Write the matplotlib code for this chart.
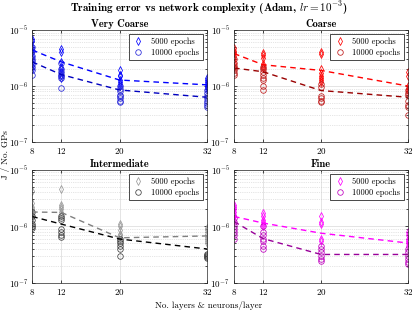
import matplotlib
matplotlib.use("Agg")
from matplotlib import pyplot as plt
from matplotlib.lines import Line2D
import numpy as np

plt.rcParams['font.family'] = ['cmr10', 'DejaVu Serif']
plt.rcParams['mathtext.fontset'] = 'cm'
plt.rcParams['axes.formatter.use_mathtext'] = True

"""Datos leidos de la figura"""
layers = [8, 12, 20, 32]
titles = ["Very Coarse", "Coarse", "Intermediate", "Fine"]

# puntos 5000 epochs (un arreglo por malla, una lista por cada x)
vc_5000 = [[7.0e-6, 6.3e-6, 5.0e-6, 4.6e-6, 4.0e-6, 3.4e-6, 3.0e-6, 2.6e-6, 2.3e-6, 2.0e-6],
           [4.5e-6, 4.0e-6, 2.7e-6, 2.2e-6, 2.0e-6, 1.8e-6, 1.6e-6, 1.4e-6],
           [1.9e-6, 1.6e-6, 1.5e-6, 1.3e-6, 1.2e-6, 1.1e-6, 1.0e-6],
           [1.4e-6, 1.3e-6, 1.2e-6, 1.1e-6, 1.0e-6, 9.5e-7, 9.0e-7]]
vc_10000 = [[5.0e-6, 4.2e-6, 3.5e-6, 3.0e-6, 2.8e-6, 2.5e-6, 2.2e-6, 1.9e-6, 1.6e-6],
            [2.6e-6, 2.0e-6, 1.8e-6, 1.6e-6, 1.5e-6, 1.4e-6, 9.2e-7],
            [1.0e-6, 9.0e-7, 8.0e-7, 7.0e-7, 6.5e-7, 6.0e-7, 5.5e-7, 5.2e-7],
            [8.5e-7, 7.5e-7, 6.5e-7, 6.0e-7, 5.5e-7, 5.0e-7, 4.6e-7, 4.3e-7]]
c_5000 = [[4.8e-6, 4.3e-6, 3.9e-6, 3.5e-6, 3.0e-6, 2.6e-6, 2.2e-6],
          [3.9e-6, 3.6e-6, 3.2e-6, 2.5e-6, 2.3e-6, 2.1e-6],
          [4.0e-6, 3.8e-6, 2.0e-6, 1.7e-6, 1.5e-6, 1.4e-6, 1.3e-6, 1.2e-6],
          [1.8e-6, 1.5e-6, 1.0e-6, 9.0e-7, 8.0e-7]]
c_10000 = [[3.0e-6, 2.6e-6, 2.3e-6, 2.1e-6, 1.9e-6, 1.7e-6, 1.6e-6],
           [2.2e-6, 2.0e-6, 1.8e-6, 1.6e-6, 1.4e-6, 1.3e-6, 1.0e-6, 8.5e-7],
           [1.1e-6, 9.5e-7, 6.5e-7, 6.0e-7, 5.5e-7, 5.2e-7],
           [8.5e-7, 7.5e-7, 7.0e-7, 5.5e-7, 4.5e-7, 4.2e-7, 3.0e-7]]
i_5000 = [[4.3e-6, 2.6e-6, 2.2e-6, 2.0e-6, 1.8e-6, 1.6e-6, 1.4e-6, 1.2e-6],
          [4.6e-6, 2.4e-6, 2.2e-6, 2.0e-6, 1.8e-6, 1.6e-6],
          [1.1e-6, 1.0e-6, 8.5e-7, 7.5e-7, 7.0e-7, 6.5e-7],
          [9.5e-7, 8.5e-7, 7.5e-7, 6.5e-7, 6.0e-7, 5.5e-7, 5.0e-7]]
i_10000 = [[1.8e-6, 1.5e-6, 1.3e-6, 1.1e-6, 1.0e-6, 9.5e-7],
           [1.5e-6, 1.4e-6, 1.3e-6, 9.0e-7, 8.0e-7, 7.0e-7, 6.5e-7],
           [6.0e-7, 5.5e-7, 5.0e-7, 4.5e-7, 4.0e-7, 3.0e-7],
           [3.3e-7, 3.1e-7, 3.0e-7, 2.9e-7, 2.8e-7]]
f_5000 = [[2.4e-6, 2.2e-6, 2.0e-6, 1.8e-6, 1.6e-6, 1.5e-6, 1.3e-6],
          [1.7e-6, 1.5e-6, 1.3e-6, 1.2e-6, 1.1e-6, 1.0e-6],
          [1.5e-6, 1.2e-6, 1.1e-6, 6.0e-7, 5.5e-7],
          [8.0e-7, 7.0e-7, 6.0e-7, 5.5e-7, 5.0e-7, 4.5e-7]]
f_10000 = [[1.4e-6, 1.2e-6, 1.0e-6, 9.0e-7, 8.0e-7, 7.0e-7, 6.0e-7],
           [1.0e-6, 8.0e-7, 7.0e-7, 6.0e-7, 5.5e-7, 4.5e-7, 4.0e-7],
           [4.5e-7, 4.0e-7, 3.5e-7, 3.0e-7, 2.7e-7, 2.5e-7],
           [4.0e-7, 3.5e-7, 3.0e-7, 2.7e-7, 2.4e-7, 2.2e-7]]

# lineas de tendencia (valores leidos)
vc_line_5000 = [4.4e-6, 2.7e-6, 1.28e-6, 1.05e-6]
vc_line_10000 = [2.7e-6, 1.6e-6, 8.5e-7, 6.3e-7]
c_line_5000 = [3.8e-6, 2.4e-6, 1.9e-6, 1.0e-6]
c_line_10000 = [2.1e-6, 1.8e-6, 8.3e-7, 6.3e-7]
i_line_5000 = [1.8e-6, 1.77e-6, 6.3e-7, 6.8e-7]
i_line_10000 = [1.5e-6, 1.1e-6, 6.0e-7, 4.0e-7]
f_line_5000 = [1.5e-6, 1.15e-6, 7.6e-7, 5.1e-7]
f_line_10000 = [1.22e-6, 6.1e-7, 3.2e-7, 3.2e-7]

pts_5000 = [vc_5000, c_5000, i_5000, f_5000]
pts_10000 = [vc_10000, c_10000, i_10000, f_10000]
lines_5000 = [vc_line_5000, c_line_5000, i_line_5000, f_line_5000]
lines_10000 = [vc_line_10000, c_line_10000, i_line_10000, f_line_10000]

# colores: (marcador 5000, linea 5000, marcador 10000, linea 10000)
colores = [((0, 0, 1), (0, 0, 1), (0.15, 0.15, 0.85), (0, 0, 0.75)),
           ((1, 0, 0), (1, 0, 0), (0.75, 0.1, 0.1), (0.6, 0, 0)),
           ((0.6, 0.6, 0.6), (0.5, 0.5, 0.5), (0.25, 0.25, 0.25), (0, 0, 0)),
           ((1, 0, 1), (1, 0, 1), (0.75, 0, 0.75), (0.6, 0, 0.6))]

fig = plt.figure(figsize=(4.18, 3.10), dpi=100)
posiciones = [[0.077, 0.542, 0.418, 0.361],
              [0.560, 0.542, 0.416, 0.361],
              [0.077, 0.087, 0.418, 0.365],
              [0.560, 0.087, 0.416, 0.365]]

for k in range(4):
    ax = fig.add_axes(posiciones[k])
    cm5, cl5, cm10, cl10 = colores[k]
    for j, x in enumerate(layers):
        ax.plot([x]*len(pts_5000[k][j]), pts_5000[k][j], 'd', ms=4,
                mfc='none', mec=cm5, mew=0.55)
        ax.plot([x]*len(pts_10000[k][j]), pts_10000[k][j], 'o', ms=4,
                mfc='none', mec=cm10, mew=0.55)
    ax.plot(layers, lines_5000[k], '--', color=cl5, lw=1.0, dashes=(4, 3))
    ax.plot(layers, lines_10000[k], '--', color=cl10, lw=1.0, dashes=(4, 3))

    ax.set_yscale('log')
    ax.set_ylim(1e-7, 1e-5)
    ax.set_xlim(8, 32)
    ax.set_xticks(layers)
    ax.set_yticks([1e-7, 1e-6, 1e-5])
    ax.tick_params(which='both', direction='in', labelsize=6.5, length=2,
                   width=0.5, top=True, right=True, pad=3)
    ax.tick_params(which='minor', length=1.2)
    ax.grid(True, which='major', color=(0.85, 0.85, 0.85), lw=0.5)
    ax.grid(True, which='minor', axis='y', color=(0.8, 0.8, 0.8), lw=0.5,
            ls=':')
    for s in ax.spines.values():
        s.set_linewidth(0.5)
        s.set_color((0.15, 0.15, 0.15))
    ax.set_title(titles[k], fontsize=7.5, family='cmb10', pad=2)

    handles = [Line2D([], [], ls='none', marker='d', ms=4, mfc='none',
                      mec=cm5, mew=0.55),
               Line2D([], [], ls='none', marker='o', ms=4, mfc='none',
                      mec=cm10, mew=0.55)]
    leg = ax.legend(handles, ['5000 epochs', '10000 epochs'], loc='upper right',
                    fontsize=6, fancybox=False, framealpha=1, edgecolor='k',
                    handlelength=1.5, borderaxespad=0.5, borderpad=0.4,
                    labelspacing=0.3)
    leg.get_frame().set_linewidth(0.5)

fig.text(0.5, 0.975, r'Training error vs network complexity (Adam, $\mathbf{\mathit{lr}} = 10^{-3}$)',
         ha='center', va='center', fontsize=8, family='cmb10')
fig.text(0.5, 0.015, 'No. layers & neurons/layer', ha='center', va='center',
         fontsize=6.5)
fig.text(0.012, 0.5, 'J / No. GPs', ha='center', va='center', rotation=90,
         fontsize=6.5)

fig.savefig('out.png', dpi=100)
